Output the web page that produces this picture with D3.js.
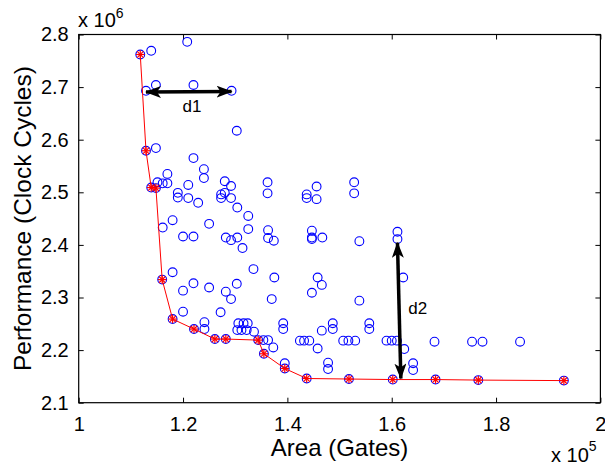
<!DOCTYPE html>
<html><head><meta charset="utf-8">
<script src="https://cdn.jsdelivr.net/npm/d3@7"></script>
<style>body{margin:0;background:#fff}svg{display:block}text{font-family:"Liberation Sans",Arial,sans-serif;fill:#000}</style>
</head><body><svg id="c" width="605" height="467"></svg>
<script>
// values: area in units of 1e5 gates, performance in units of 1e6 cycles
const paretoArea = [1.118,1.129,1.139,1.148,1.160,1.180,1.221,1.261,1.282,1.344,1.355,1.395,1.437,1.518,1.602,1.684,1.766,1.930];
const paretoPerf = [2.762,2.579,2.509,2.508,2.334,2.259,2.240,2.221,2.221,2.219,2.193,2.165,2.146,2.145,2.144,2.144,2.143,2.142];
const designArea = [1.139,1.208,1.129,1.148,1.220,1.293,1.303,1.148,1.220,1.240,1.240,1.170,1.151,1.161,1.170,1.210,1.190,1.190,1.210,1.229,
 1.280,1.292,1.273,1.280,1.273,1.292,1.304,1.325,1.325,1.362,1.362,1.363,1.363,1.374,1.180,1.161,1.250,1.200,1.220,1.282,
 1.292,1.304,1.314,1.335,1.180,1.220,1.303,1.200,1.250,1.282,1.292,1.370,1.200,1.272,1.241,1.241,1.306,1.316,1.324,1.304,
 1.312,1.322,1.336,1.354,1.363,1.373,1.437,1.437,1.456,1.456,1.528,1.528,1.447,1.447,1.447,1.467,1.538,1.611,1.611,1.375,
 1.458,1.622,1.466,1.447,1.538,1.392,1.392,1.466,1.487,1.487,1.557,1.557,1.424,1.432,1.442,1.458,1.507,1.517,1.530,1.590,
 1.600,1.610,1.624,1.682,1.478,1.478,1.395,1.641,1.641,1.754,1.774,1.846];
const designPerf = [2.769,2.786,2.693,2.704,2.704,2.693,2.617,2.584,2.565,2.544,2.527,2.535,2.519,2.517,2.517,2.514,2.499,2.490,2.489,2.480,
 2.521,2.512,2.496,2.499,2.489,2.489,2.471,2.455,2.430,2.519,2.498,2.428,2.413,2.408,2.447,2.433,2.440,2.416,2.416,2.414,
 2.409,2.414,2.394,2.354,2.348,2.327,2.326,2.313,2.319,2.311,2.297,2.297,2.273,2.272,2.253,2.240,2.251,2.251,2.251,2.238,
 2.238,2.238,2.235,2.219,2.219,2.205,2.496,2.489,2.511,2.487,2.519,2.498,2.427,2.414,2.411,2.414,2.407,2.425,2.411,2.338,
 2.338,2.338,2.324,2.309,2.294,2.251,2.240,2.237,2.251,2.240,2.251,2.240,2.218,2.218,2.218,2.203,2.218,2.218,2.218,2.218,
 2.218,2.218,2.202,2.216,2.176,2.164,2.175,2.175,2.162,2.216,2.216,2.216];
const xTicks = [1,1.2,1.4,1.6,1.8,2];
const yTicks = [2.1,2.2,2.3,2.4,2.5,2.6,2.7,2.8];
const xLabel = "Area (Gates)", yLabel = "Performance (Clock Cycles)";
const xExp = "5", yExp = "6";
const arrows = [{name:"d1", x1:1.129, y1:2.6905, x2:1.293, y2:2.6915, lx:1.217, ly:2.664},
                {name:"d2", x1:1.611, y1:2.404, x2:1.6175, y2:2.146, lx:1.650, ly:2.280}];

const svg = d3.select("#c");
const L=78.7, R=600.4, T=34.5, B=402.7;
const x = d3.scaleLinear().domain([1,2]).range([L,R]);
const y = d3.scaleLinear().domain([2.1,2.8]).range([B,T]);

const fmt = d => String(+d.toFixed(1));
const ax = (g, axis) => { g.call(axis); g.select(".domain").remove(); g.selectAll(".tick line").attr("stroke","#000"); };
svg.append("g").attr("transform",`translate(0,${B})`).call(g=>ax(g,d3.axisBottom(x).tickValues(xTicks).tickSize(-5).tickPadding(14).tickFormat(fmt)))
  .selectAll("text").attr("font-size",20).attr("fill","#000");
svg.append("g").attr("transform",`translate(0,${T})`).call(g=>ax(g,d3.axisTop(x).tickValues(xTicks).tickSize(-5).tickFormat("")));
svg.append("g").attr("transform",`translate(${L},0)`).call(g=>ax(g,d3.axisLeft(y).tickValues(yTicks).tickSize(-5).tickPadding(10).tickFormat(fmt)))
  .selectAll("text").attr("font-size",20).attr("fill","#000");
svg.append("g").attr("transform",`translate(${R},0)`).call(g=>ax(g,d3.axisRight(y).tickValues(yTicks).tickSize(-5).tickFormat("")));
svg.selectAll(".tick text").attr("font-family","Liberation Sans, Arial, sans-serif");
svg.append("rect").attr("x",L).attr("y",T).attr("width",R-L).attr("height",B-T).attr("fill","none").attr("stroke","#000").attr("stroke-width",1.2);

const designs = designArea.map((a,i)=>({a,p:designPerf[i]}));
const pareto = paretoArea.map((a,i)=>({a,p:paretoPerf[i]}));
const plot = svg.append("g");
plot.selectAll("circle.d").data(designs.concat(pareto)).join("circle")
  .attr("cx",d=>x(d.a)).attr("cy",d=>y(d.p)).attr("r",4.4)
  .attr("fill","none").attr("stroke","#0000ff").attr("stroke-width",1.1);
plot.append("path").datum(pareto).attr("fill","none").attr("stroke","#ff0000").attr("stroke-width",1)
  .attr("d",d3.line().x(d=>x(d.a)).y(d=>y(d.p)));
const star = plot.selectAll("g.s").data(pareto).join("g").attr("transform",d=>`translate(${x(d.a)},${y(d.p)})`);
const s=4.3, s2=3.1;
[[-s,0,s,0],[0,-s,0,s],[-s2,-s2,s2,s2],[-s2,s2,s2,-s2]].forEach(c=>{
  star.append("line").attr("x1",c[0]).attr("y1",c[1]).attr("x2",c[2]).attr("y2",c[3]).attr("stroke","#ff0000").attr("stroke-width",1.2);
});

const defs = svg.append("defs");
defs.append("marker").attr("id","ah").attr("viewBox","0 0 16 12").attr("refX",15).attr("refY",6)
  .attr("markerWidth",16).attr("markerHeight",12).attr("markerUnits","userSpaceOnUse").attr("orient","auto-start-reverse")
  .append("path").attr("d","M0,0 L16,6 L0,12 L4,6 Z").attr("fill","#000");
arrows.forEach(a=>{
  svg.append("line").attr("x1",x(a.x1)).attr("y1",y(a.y1)).attr("x2",x(a.x2)).attr("y2",y(a.y2))
    .attr("stroke","#000").attr("stroke-width",3.5).attr("marker-start","url(#ah)").attr("marker-end","url(#ah)");
  svg.append("text").attr("x",x(a.lx)).attr("y",y(a.ly)).attr("text-anchor","middle").attr("dominant-baseline","central")
    .attr("font-size",17).text(a.name);
});

svg.append("text").attr("x",(L+R)/2).attr("y",456).attr("text-anchor","middle").attr("font-size",24).text(xLabel);
svg.append("text").attr("transform",`translate(31,${(T+B)/2}) rotate(-90)`).attr("text-anchor","middle").attr("font-size",24.5).text(yLabel);
const e1 = svg.append("text").attr("x",78).attr("y",27).attr("font-size",20);
e1.append("tspan").text("x 10"); e1.append("tspan").attr("dy",-9).attr("font-size",14).text(yExp);
const e2 = svg.append("text").attr("x",551).attr("y",462).attr("font-size",20);
e2.append("tspan").text("x 10"); e2.append("tspan").attr("dy",-11).attr("font-size",14).text(xExp);
</script></body></html>
